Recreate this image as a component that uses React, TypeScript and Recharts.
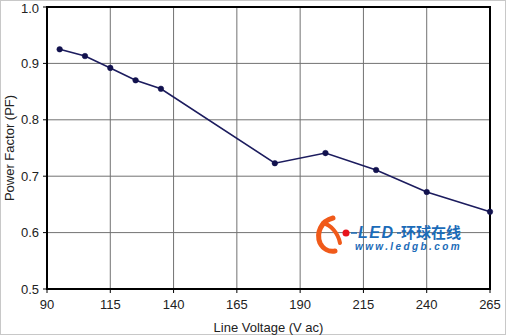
import {
  CartesianGrid,
  Label,
  Line,
  LineChart,
  ReferenceArea,
  XAxis,
  YAxis,
} from 'recharts';

const voltages = [95, 105, 115, 125, 135, 180, 200, 220, 240, 265];
const powerFactor = [0.925, 0.913, 0.892, 0.870, 0.855, 0.723, 0.741, 0.711, 0.672, 0.637];
const xTicks = [90, 115, 140, 165, 190, 215, 240, 265];
const yTicks = [0.5, 0.6, 0.7, 0.8, 0.9, 1.0];

const data = voltages.map((v, i) => ({ v, pf: powerFactor[i] }));

const font = '"Liberation Sans", Arial, sans-serif';
const textStyle = { fill: '#222', fontSize: 13, fontFamily: font };

function Watermark() {
  return (
    <svg
      width={170}
      height={50}
      style={{ position: 'absolute', left: 310, top: 210 }}
    >
      <path
        d="M22 7 C10 10 5 22 9 32 C12 38 18 41 24 40"
        fill="none"
        stroke="#f05a1a"
        strokeWidth={5}
        strokeLinecap="round"
      />
      <path
        d="M12 12 C20 14 27 22 29 32"
        fill="none"
        stroke="#f05a1a"
        strokeWidth={4}
        strokeLinecap="round"
      />
      <circle cx={35} cy={22} r={3.5} fill="#e8141c" />
      <line x1={40} y1={22} x2={46} y2={22} stroke="#1b6bb8" strokeWidth={1.5} />
      <text
        x={47}
        y={27}
        fontFamily={font}
        fontSize={16}
        fontWeight="bold"
        fontStyle="italic"
        letterSpacing={1.5}
        fill="#1b6bb8"
      >
        LED
      </text>
      <line x1={86} y1={22} x2={90} y2={22} stroke="#1b6bb8" strokeWidth={1.5} />
      <text x={90} y={27} fontFamily='"Noto Sans CJK SC", sans-serif' fontSize={15} fontWeight="bold" fill="#1b6bb8">
        环球在线
      </text>
      <text
        x={44}
        y={39}
        fontFamily={font}
        fontSize={10}
        fontWeight="bold"
        fontStyle="italic"
        letterSpacing={2.4}
        fill="#1b6bb8"
      >
        www.ledgb.com
      </text>
    </svg>
  );
}

export default function App() {
  return (
    <div
      style={{
        position: 'absolute',
        left: 0,
        top: 0,
        width: 506,
        height: 335,
        boxSizing: 'border-box',
        border: '1px solid #c8c8c8',
        background: '#fff',
      }}
    >
      <div style={{ position: 'absolute', left: -1, top: -1 }}>
        <LineChart
          width={506}
          height={335}
          data={data}
          margin={{ top: 7, right: 16, left: 0, bottom: 0 }}
        >
          <CartesianGrid stroke="#727272" strokeWidth={1} />
          <XAxis
            dataKey="v"
            type="number"
            domain={[90, 265]}
            ticks={xTicks}
            height={46}
            tickSize={4}
            tickMargin={7}
            tickLine={{ stroke: '#000' }}
            axisLine={false}
            tick={textStyle}
          >
            <Label
              value="Line Voltage (V ac)"
              position="insideBottom"
              offset={3}
              style={textStyle}
            />
          </XAxis>
          <YAxis
            type="number"
            domain={[0.5, 1.0]}
            ticks={yTicks}
            width={47}
            tickSize={4}
            tickMargin={4}
            tickLine={{ stroke: '#000' }}
            axisLine={false}
            tickFormatter={(t: number) => t.toFixed(1)}
            tick={textStyle}
          >
            <Label
              value="Power Factor (PF)"
              angle={-90}
              position="insideLeft"
              offset={9}
              style={{ ...textStyle, textAnchor: 'middle' }}
            />
          </YAxis>
          <ReferenceArea
            x1={90}
            x2={265}
            y1={0.5}
            y2={1.0}
            fill="none"
            fillOpacity={0}
            stroke="#000"
            strokeWidth={2}
            ifOverflow="visible"
          />
          <Line
            type="linear"
            dataKey="pf"
            stroke="#1c1c5e"
            strokeWidth={1.6}
            dot={{ r: 2.8, fill: '#12124e', stroke: '#12124e', strokeWidth: 0.5 }}
            isAnimationActive={false}
          />
        </LineChart>
      </div>
      <Watermark />
    </div>
  );
}
